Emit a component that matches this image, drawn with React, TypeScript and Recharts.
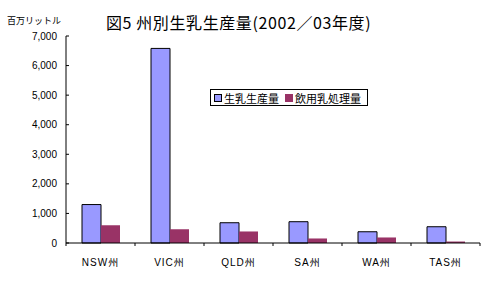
import React from "react";
import { BarChart, Bar, XAxis, YAxis, Legend } from "recharts";

const categories = ["NSW州", "VIC州", "QLD州", "SA州", "WA州", "TAS州"];
const rawMilk = [1300, 6580, 685, 720, 380, 550];
const drinkingMilk = [600, 465, 390, 153, 187, 50];
const yTicks = [0, 1000, 2000, 3000, 4000, 5000, 6000, 7000];
const seriesNames = ["生乳生産量", "飲用乳処理量"];
const title = "図5 州別生乳生産量(2002／03年度)";
const unitLabel = "百万リットル";

const data = categories.map((c, i) => ({
  name: c,
  raw: rawMilk[i],
  drink: drinkingMilk[i],
}));

const FONT = "'Liberation Sans', 'Noto Sans CJK JP', sans-serif";

const XTick = (props: any) => {
  const { x, y, payload, index } = props;
  const off = payload && typeof payload.offset === "number" ? payload.offset : 0;
  const axisY = y - 13;
  return (
    <g>
      {off > 0 && (
        <line x1={x - off} x2={x - off} y1={axisY} y2={axisY - 3} stroke="#000" />
      )}
      {off > 0 && index === categories.length - 1 && (
        <line x1={x + off} x2={x + off} y1={axisY} y2={axisY - 3} stroke="#000" />
      )}
      <text
        x={x}
        y={y}
        dy="0.71em"
        textAnchor="middle"
        fontSize={10}
        fontFamily={FONT}
        fill="#000"
        letterSpacing={1}
      >
        {payload.value}
      </text>
    </g>
  );
};

const LegendContent = (props: any) => {
  const { payload } = props;
  return (
    <div
      style={{
        border: "1px solid #000",
        background: "#fff",
        display: "flex",
        alignItems: "center",
        height: 15,
        padding: "0 6px 0 3px",
        fontFamily: FONT,
        fontSize: 11,
        whiteSpace: "nowrap",
        boxSizing: "content-box",
      }}
    >
      {(payload || []).map((p: any, i: number) => (
        <span key={i} style={{ display: "flex", alignItems: "center", marginRight: i === 0 ? 6 : 0 }}>
          <span
            style={{
              display: "inline-block",
              width: 6,
              height: 6,
              background: p.color,
              border: i === 0 ? "1px solid #000" : "1px solid " + p.color,
              marginRight: 2,
            }}
          />
          <span>{p.value}</span>
        </span>
      ))}
    </div>
  );
};

export default function App() {
  return (
    <div style={{ position: "absolute", left: 0, top: 0, width: 487, height: 308, background: "#fff" }}>
      <div
        style={{
          position: "absolute",
          left: 106,
          top: 13,
          fontSize: 16,
          fontFamily: "'Noto Sans CJK JP', sans-serif",
          whiteSpace: "nowrap",
          lineHeight: "18px",
          letterSpacing: 0.6,
          zIndex: 2,
        }}
      >
        {title}
      </div>
      <div
        style={{
          position: "absolute",
          left: 7,
          top: 15,
          fontSize: 9,
          fontFamily: FONT,
          whiteSpace: "nowrap",
          lineHeight: "12px",
          zIndex: 2,
        }}
      >
        {unitLabel}
      </div>
      <BarChart
        width={487}
        height={308}
        data={data}
        margin={{ top: 36, right: 7, bottom: 35, left: 0 }}
        barGap={0}
        barSize={19}
      >
        <XAxis
          dataKey="name"
          axisLine={{ stroke: "#000" }}
          tickLine={false}
          tick={<XTick />}
          tickMargin={10}
          height={30}
          interval={0}
        />
        <YAxis
          domain={[0, 7000]}
          ticks={yTicks}
          interval={0}
          width={66}
          axisLine={{ stroke: "#000" }}
          tickLine={{ stroke: "#000" }}
          tickSize={-3}
          tickMargin={12}
          tick={{ fontSize: 10, fontFamily: FONT, fill: "#000" }}
          tickFormatter={(v: number) => v.toLocaleString("en-US")}
        />
        <Legend
          layout="vertical"
          align="center"
          verticalAlign="middle"
          content={<LegendContent />}
          wrapperStyle={{ left: 210, top: 89, width: "auto", height: "auto" }}
        />
        <Bar
          dataKey="raw"
          name={seriesNames[0]}
          fill="#9999FF"
          stroke="#000"
          strokeWidth={1}
          isAnimationActive={false}
        />
        <Bar
          dataKey="drink"
          name={seriesNames[1]}
          fill="#993366"
          isAnimationActive={false}
        />
      </BarChart>
    </div>
  );
}
